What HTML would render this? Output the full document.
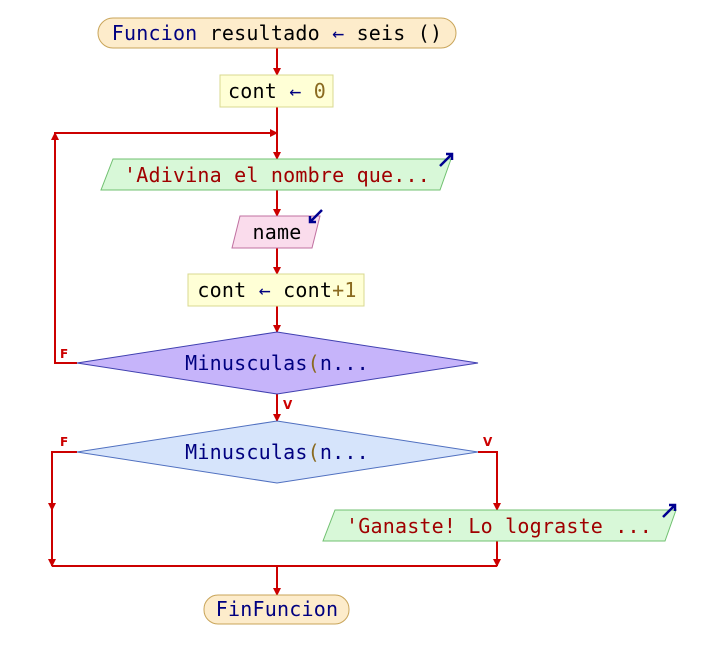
<!DOCTYPE html>
<html><head><style>body{margin:0;background:#fff}</style></head><body>
<svg width="709" height="653" xmlns="http://www.w3.org/2000/svg" font-family="'DejaVu Sans Mono','Liberation Mono',monospace" font-size="20" letter-spacing="0.2">
<defs><marker id="a" markerWidth="8" markerHeight="8" refX="7" refY="4" orient="auto" markerUnits="userSpaceOnUse"><path d="M0,0 L8,4 L0,8z" fill="#c00"/></marker></defs>
<g stroke="#c00" stroke-width="2" fill="none">
<line x1="277" y1="48" x2="277" y2="75" marker-end="url(#a)"/>
<line x1="277" y1="107" x2="277" y2="159" marker-end="url(#a)"/>
<line x1="277" y1="190" x2="277" y2="216" marker-end="url(#a)"/>
<line x1="277" y1="248" x2="277" y2="274" marker-end="url(#a)"/>
<line x1="277" y1="306" x2="277" y2="332" marker-end="url(#a)"/>
<line x1="277" y1="394" x2="277" y2="421" marker-end="url(#a)"/>
<polyline points="77,363 55,363 55,133 277,133" marker-end="url(#a)"/>
<line x1="55" y1="300" x2="55" y2="133" marker-end="url(#a)"/>
<polyline points="77,452 52,452 52,566"/>
<line x1="52" y1="452" x2="52" y2="510" marker-end="url(#a)"/>
<line x1="52" y1="560" x2="52" y2="566" marker-end="url(#a)"/>
<polyline points="478,452 497,452 497,510" marker-end="url(#a)"/>
<line x1="497" y1="541" x2="497" y2="566" marker-end="url(#a)"/>
<line x1="52" y1="566" x2="497" y2="566"/>
<line x1="277" y1="566" x2="277" y2="595" marker-end="url(#a)"/>
</g>
<rect x="98" y="18" width="358" height="30" rx="15" fill="#fdeccb" stroke="#c9a55a"/>
<text x="277" y="40" text-anchor="middle"><tspan fill="#000080">Funcion</tspan> resultado <tspan fill="#000080">←</tspan> seis ()</text>
<rect x="220" y="75" width="113" height="32" fill="#ffffd6" stroke="#d8d890"/>
<text x="277" y="98" text-anchor="middle">cont <tspan fill="#000080">←</tspan> <tspan fill="#8a6a20">0</tspan></text>
<polygon points="113,159 451,159 440,190 101,190" fill="#d8f8d8" stroke="#70c070"/>
<text x="277" y="182" text-anchor="middle" fill="#a00000">'Adivina el nombre que...</text>
<polygon points="240,216 320,216 312,248 232,248" fill="#fadcec" stroke="#c070a0"/>
<text x="277" y="239" text-anchor="middle">name</text>
<rect x="188" y="274" width="176" height="32" fill="#ffffd6" stroke="#d8d890"/>
<text x="277" y="297" text-anchor="middle">cont <tspan fill="#000080">←</tspan> cont<tspan fill="#8a6a20">+1</tspan></text>
<polygon points="277,332 478,363 277,394 77,363" fill="#c6b4fa" stroke="#4040b0"/>
<text x="277" y="370" text-anchor="middle" fill="#000080">Minusculas<tspan fill="#8a6a20">(</tspan>n...</text>
<polygon points="277,421 478,452 277,483 77,452" fill="#d6e4fb" stroke="#5070c0"/>
<text x="277" y="459" text-anchor="middle" fill="#000080">Minusculas<tspan fill="#8a6a20">(</tspan>n...</text>
<polygon points="335,510 676,510 665,541 323,541" fill="#d8f8d8" stroke="#70c070"/>
<text x="499" y="533" text-anchor="middle" fill="#a00000">'Ganaste! Lo lograste ...</text>
<rect x="204" y="595" width="145" height="29" rx="14" fill="#fdeccb" stroke="#c9a55a"/>
<text x="277" y="616" text-anchor="middle" fill="#000080">FinFuncion</text>
<g fill="#c00" font-family="'DejaVu Sans','Liberation Sans',sans-serif" font-size="12" font-weight="bold" letter-spacing="0">
<text x="60" y="358">F</text><text x="283" y="409">V</text><text x="60" y="446">F</text><text x="483" y="446">V</text>
</g>
<g stroke="#000090" stroke-width="2.5" fill="none">
<path d="M440,166 L452,154 M446,154 L452,154 L452,160"/>
<path d="M322,210 L310,222 M310,216 L310,222 L316,222"/>
<path d="M663,517 L675,505 M669,505 L675,505 L675,511"/>
</g>
</svg>
</body></html>
